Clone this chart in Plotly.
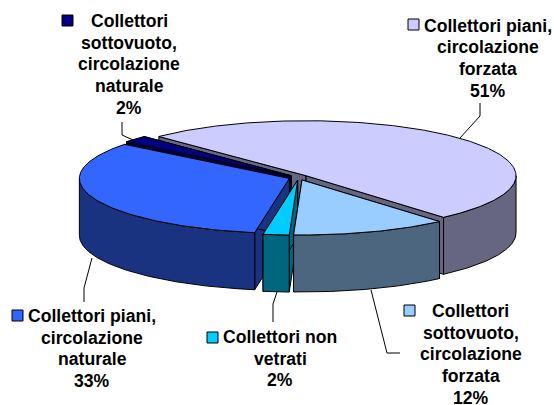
import math
import plotly.graph_objects as go

# Data
categories = ["Collettori piani, circolazione forzata",
              "Collettori sottovuoto, circolazione forzata",
              "Collettori non vetrati",
              "Collettori piani, circolazione naturale",
              "Collettori sottovuoto, circolazione naturale"]
values = [51, 12, 2, 33, 2]
top_colors = ["#CCCCFF", "#99CCFF", "#00CCFF", "#3366FF", "#000080"]
side_colors = ["#666680", "#4D6680", "#006680", "#1A3380", "#000040"]
label_lines = [["Collettori piani,", "circolazione", "forzata", "51%"],
               ["Collettori", "sottovuoto,", "circolazione", "forzata", "12%"],
               ["Collettori non", "vetrati", "2%"],
               ["Collettori piani,", "circolazione", "naturale", "33%"],
               ["Collettori", "sottovuoto,", "circolazione", "naturale", "2%"]]
label_x = [487.5, 470.5, 280, 92, 129]
label_first_y = [25.5, 311, 337, 316, 21]
LINE_STEP = 21.7
key_pos = [(408, 19), (404, 305), (207, 332), (12, 310), (62, 15)]
leaders = [[(460, 138), (480, 116), (480, 103)],
           [(371, 290), (387, 353), (400, 353)],
           [(277, 292), (273, 304), (273, 322)],
           [(92, 258), (84, 288), (84, 302)],
           [(133, 140), (122, 135), (122, 122)]]

# Pie geometry
CX, CY, RX, RY, DEPTH, EXPLODE, START = 298.7, 177.5, 210, 55, 57, 10, 315.5
draw_order = [0, 4, 3, 2, 1]

total = sum(values)
spans = []
a = START
for v in values:
    b = a + v / total * 360
    spans.append((a, b))
    a = b


def pt(center, ang, depth=0.0):
    t = math.radians(ang)
    return (center[0] + RX * math.sin(t), center[1] - RY * math.cos(t) + depth)


def arc(center, a0, a1, depth=0.0):
    n = max(2, int(abs(a1 - a0) * 1.5))
    return [pt(center, a0 + (a1 - a0) * i / n, depth) for i in range(n + 1)]


fig = go.Figure()


def poly(points, fill):
    xs = [p[0] for p in points] + [points[0][0]]
    ys = [p[1] for p in points] + [points[0][1]]
    fig.add_trace(go.Scatter(x=xs, y=ys, mode="lines", fill="toself", fillcolor=fill,
                             line=dict(color="black", width=1), hoverinfo="skip",
                             showlegend=False))


for i in draw_order:
    a0, a1 = spans[i]
    mid = math.radians((a0 + a1) / 2)
    tip = (CX + EXPLODE * math.sin(mid), CY - EXPLODE * RY / RX * math.cos(mid))
    # cut faces
    for ang in (a0, a1):
        r = pt(tip, ang)
        poly([tip, r, (r[0], r[1] + DEPTH), (tip[0], tip[1] + DEPTH)], side_colors[i])
    # outer wall: visible part only, between east (90) and west (270), any full turn
    for k in (0, 360):
        lo, hi = max(a0, 90 + k), min(a1, 270 + k)
        if lo < hi:
            poly(arc(tip, lo, hi) + arc(tip, hi, lo, DEPTH), side_colors[i])
    # top face
    poly([tip] + arc(tip, a0, a1), top_colors[i])

annotations = []
for lines, x, y0 in zip(label_lines, label_x, label_first_y):
    for n, line in enumerate(lines):
        annotations.append(dict(x=x, y=y0 + n * LINE_STEP, text=f"<b>{line}</b>",
                                showarrow=False, xanchor="center", yanchor="middle",
                                align="center",
                                font=dict(family="Liberation Sans", size=17.6, color="black")))

shapes = []
for (x, y), c in zip(key_pos, top_colors):
    shapes.append(dict(type="rect", x0=x, x1=x + 11, y0=y, y1=y + 11, fillcolor=c,
                       line=dict(color="black", width=1)))
for seg in leaders:
    path = "M " + " L ".join(f"{x} {y}" for x, y in seg)
    shapes.append(dict(type="path", path=path, line=dict(color="black", width=1)))

fig.update_layout(
    width=554, height=405, margin=dict(l=0, r=0, t=0, b=0),
    paper_bgcolor="white", plot_bgcolor="white", showlegend=False,
    xaxis=dict(range=[0, 554], visible=False, fixedrange=True),
    yaxis=dict(range=[405, 0], visible=False, fixedrange=True),
    annotations=annotations, shapes=shapes,
)
fig.write_html("out.html", config={"displayModeBar": False},
               post_script="document.body.style.margin='0';")
